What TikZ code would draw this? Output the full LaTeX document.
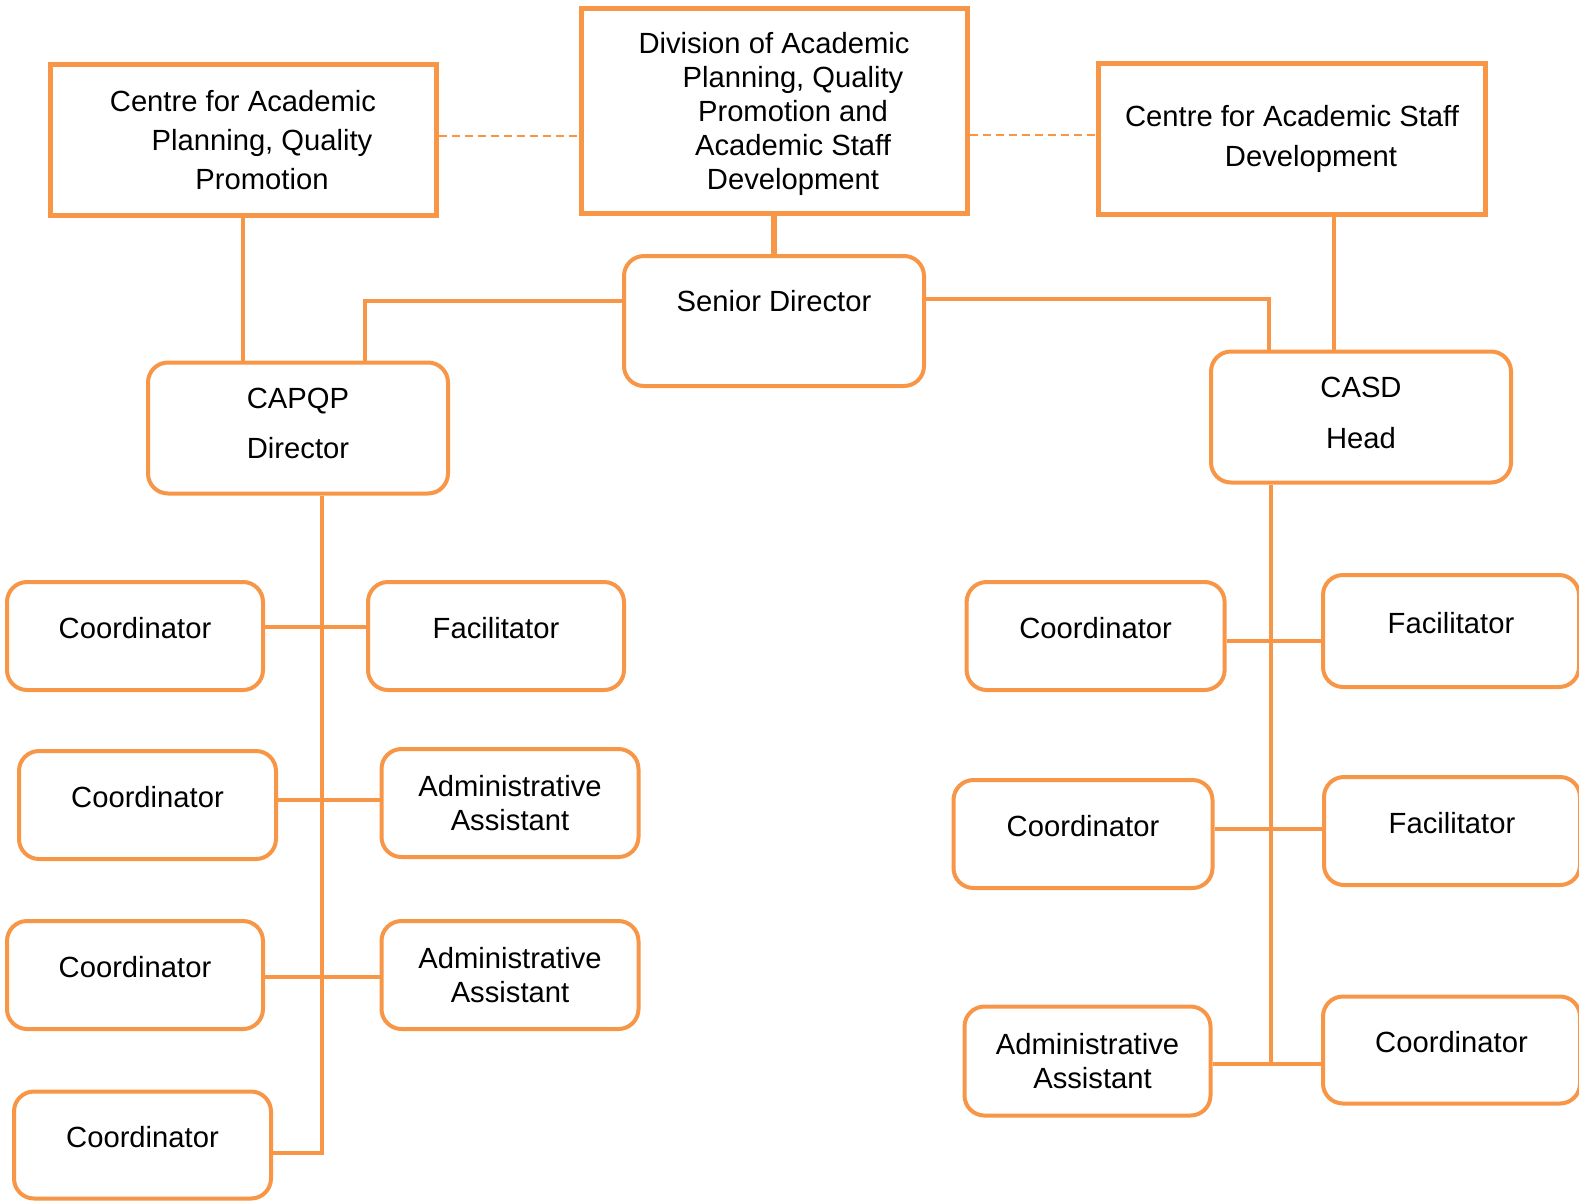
\documentclass[tikz,border=0pt]{standalone}
\usepackage{fontspec}
\setmainfont{Liberation Sans}
\usetikzlibrary{positioning}
\definecolor{orgorange}{HTML}{F79646}
\newcommand{\orgfont}{\fontsize{14.6}{17}\selectfont}
\newcommand{\orglead}[1]{\fontsize{14.6}{#1}\selectfont}

\begin{document}
\begin{tikzpicture}[x=0.5pt,y=-0.5pt,
    unitbox/.style={draw=orgorange,line width=2.5pt,fill=white,minimum width=193pt,align=center,font=\orgfont},
    postbox/.style={draw=orgorange,line width=2pt,rounded corners=10pt,fill=white,minimum width=128pt,minimum height=54pt,align=center,font=\orgfont},
    headbox/.style={postbox,minimum width=150pt,minimum height=65.5pt},
    uptext/.style={text depth=#1},
    linkline/.style={orgorange,line width=2pt},
    dashline/.style={orgorange,line width=1pt,dash pattern=on 4pt off 2.5pt}]
    \useasboundingbox (0,0) rectangle (1579,1200);
    \node[unitbox,minimum height=75.5pt,font=\orglead{19.4}] (capq) at (243,140) {Centre for Academic\\\hspace*{19pt}Planning, Quality\\\hspace*{19pt}Promotion};
    \node[unitbox,minimum height=102.5pt,font=\orglead{16.9},uptext=0pt] (div) at (774,111) {Division of Academic\\\hspace*{19pt}Planning, Quality\\\hspace*{19pt}Promotion and\\\hspace*{19pt}Academic Staff\\\hspace*{19pt}Development};
    \node[unitbox,minimum width=193.5pt,minimum height=75.5pt,font=\orglead{20.1}] (casd) at (1292,139) {Centre for Academic Staff\\\hspace*{19pt}Development};
    \node[headbox,minimum height=65pt,uptext=20pt] (senior) at (774,321) {Senior Director};
    \node[headbox,font=\orglead{25.2},uptext=5pt] (capqp) at (298,428) {CAPQP\\Director};
    \node[headbox,font=\orglead{25.7},uptext=4.5pt] (casdhead) at (1361,417) {CASD\\Head};
    \node[postbox,uptext=8.5pt] (lc1) at (135,636) {Coordinator};
    \node[postbox,uptext=8.5pt] (lf1) at (496,636) {Facilitator};
    \node[postbox,minimum width=128.5pt,uptext=8.5pt] (lc2) at (147.5,805) {Coordinator};
    \node[postbox,minimum width=128.5pt] (la1) at (510,803) {Administrative\\Assistant};
    \node[postbox,uptext=8.5pt] (lc3) at (135,975) {Coordinator};
    \node[postbox,minimum width=128.5pt] (la2) at (510,975) {Administrative\\Assistant};
    \node[postbox,minimum width=128.5pt,minimum height=53.5pt,uptext=8.5pt] (lc4) at (142.5,1145) {Coordinator};
    \node[postbox,minimum width=129pt,uptext=8.5pt] (rc1) at (1095.6,636) {Coordinator};
    \node[postbox,minimum height=56pt,uptext=8.5pt] (rf1) at (1451,631) {Facilitator};
    \node[postbox,minimum width=129.5pt,uptext=8.5pt] (rc2) at (1083,834) {Coordinator};
    \node[postbox,uptext=8.5pt] (rf2) at (1452,831) {Facilitator};
    \node[postbox,minimum width=123pt,minimum height=54.5pt] (ra) at (1087.5,1061) {Administrative\\\hspace*{5pt}Assistant};
    \node[postbox,minimum width=128.5pt,minimum height=53.5pt,uptext=8.5pt] (rc3) at (1451.5,1050) {Coordinator};
    \coordinate (tiel) at (0,136);
    \coordinate (tier) at (0,135);
    \coordinate (sdl) at (364.5,301);
    \coordinate (sdr) at (1269,299);
    \coordinate (casdj) at (1334,0);
    \coordinate (lj1) at (322,627.4);
    \coordinate (lj2) at (322,799.6);
    \coordinate (lj3) at (322,976.8);
    \coordinate (ltrunk) at (322,1153);
    \coordinate (rj1) at (1271,640.5);
    \coordinate (rj2) at (1271,828.8);
    \coordinate (rtrunk) at (1271,1064.4);
    \draw[dashline] (capq.east |- tiel) -- (div.west |- tiel);
    \draw[dashline] (div.east |- tier) -- (casd.west |- tier);
    \draw[linkline,line width=3pt] (div.south) -- (senior.north);
    \draw[linkline] (capq.south) -- (capq.south |- capqp.north);
    \draw[linkline] (casd.south -| casdj) -- (casdj |- casdhead.north);
    \draw[linkline] (senior.west |- sdl) -- (sdl) -- (sdl |- capqp.north);
    \draw[linkline] (senior.east |- sdr) -- (sdr) -- (sdr |- casdhead.north);
    \draw[linkline] (capqp.south -| ltrunk) -- (ltrunk) -- (lc4.east |- ltrunk);
    \draw[linkline] (lc1.east |- lj1) -- (lf1.west |- lj1);
    \draw[linkline] (lc2.east |- lj2) -- (la1.west |- lj2);
    \draw[linkline] (lc3.east |- lj3) -- (la2.west |- lj3);
    \draw[linkline] (casdhead.south -| rtrunk) -- (rtrunk);
    \draw[linkline] (rc1.east |- rj1) -- (rf1.west |- rj1);
    \draw[linkline] (rc2.east |- rj2) -- (rf2.west |- rj2);
    \draw[linkline] (ra.east |- rtrunk) -- (rc3.west |- rtrunk);
\end{tikzpicture}
\end{document}
